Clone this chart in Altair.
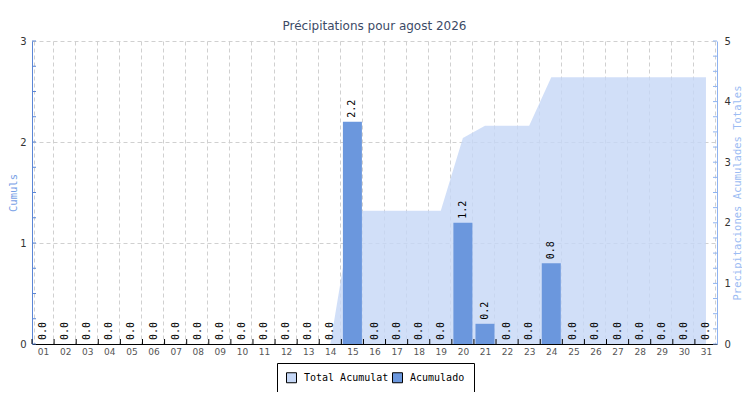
import altair as alt
import pandas as pd

days = ["01","02","03","04","05","06","07","08","09","10","11","12","13","14","15","16",
        "17","18","19","20","21","22","23","24","25","26","27","28","29","30","31"]
precip = [0.0,0.0,0.0,0.0,0.0,0.0,0.0,0.0,0.0,0.0,0.0,0.0,0.0,0.0,2.2,0.0,
          0.0,0.0,0.0,1.2,0.2,0.0,0.0,0.8,0.0,0.0,0.0,0.0,0.0,0.0,0.0]
cumul = [0.0,0.0,0.0,0.0,0.0,0.0,0.0,0.0,0.0,0.0,0.0,0.0,0.0,0.0,2.2,2.2,
         2.2,2.2,2.2,3.4,3.6,3.6,3.6,4.4,4.4,4.4,4.4,4.4,4.4,4.4,4.4]
series_names = ["Total Acumulat", "Acumulado"]
left_ticks = [i * 0.25 for i in range(13)]
right_ticks = [i * 0.25 for i in range(21)]

AREA_COL = "#c5d7f6"
BAR_COL = "#6b97dd"
W, H = 685, 303

df = pd.DataFrame({"day": days, "precip": precip, "cumul": cumul})
df["s_bar"] = series_names[1]
df["s_area"] = series_names[0]

color_scale = alt.Scale(domain=series_names, range=[AREA_COL, BAR_COL])
legend = alt.Legend(title=None, orient="none", legendX=245, legendY=322, direction="horizontal",
                    symbolType="square", symbolSize=100, symbolStrokeColor="black",
                    symbolStrokeWidth=1, symbolOpacity=1, labelFont="DejaVu Sans Mono",
                    labelFontSize=10, labelColor="black", strokeColor="black", fillColor="white",
                    padding=9, columnPadding=1, labelOffset=7, cornerRadius=0)

x_axis = alt.Axis(title=None, labelAngle=0, ticks=False, domainColor="black", domainWidth=1,
                  grid=True, gridDash=[4, 3], gridColor="#d0d0d0", tickBand="extent",
                  labelFont="DejaVu Sans", labelFontSize=9, labelColor="#555555", labelPadding=3)
x_enc = alt.X("day:O", scale=alt.Scale(paddingInner=0.14, paddingOuter=0.07), axis=x_axis)

left_axis = alt.Axis(orient="left", title="Cumuls", values=[0, 1, 2, 3], ticks=False,
                     domainColor="#5b86d6", domainWidth=1, grid=True, gridDash=[4, 3],
                     gridColor="#d0d0d0", labelFont="DejaVu Sans", labelFontSize=10,
                     labelColor="#333333", labelPadding=6, titleColor="#76a0e6",
                     titleFont="DejaVu Sans Mono", titleFontSize=10.5, titleFontWeight="normal",
                     titleAngle=270, titleX=-24, titleY=H / 2, titleAlign="center",
                     titleBaseline="top")
right_axis = alt.Axis(orient="right", title="Precipitaciones Acumulades Totales",
                      values=[0, 1, 2, 3, 4, 5], ticks=False, domainColor="#8fb3f0",
                      domainWidth=1, grid=False, labelFont="DejaVu Sans", labelFontSize=10,
                      labelColor="#333333", labelPadding=7, titleColor="#9cbcf3",
                      titleFont="DejaVu Sans Mono", titleFontSize=10.5, titleFontWeight="normal",
                      titleAngle=270, titleX=25, titleY=H / 2, titleAlign="center",
                      titleBaseline="bottom")

lscale = alt.Scale(domain=[0, 3], nice=False)
rscale = alt.Scale(domain=[0, 5], nice=False)

base = alt.Chart(df)

area = base.mark_area(opacity=0.8, interpolate="linear").encode(
    x=x_enc,
    y=alt.Y("cumul:Q", scale=rscale, axis=right_axis),
    color=alt.Color("s_area:N", scale=color_scale, legend=legend),
)
rt = alt.Chart(pd.DataFrame({"v": right_ticks})).mark_rule(color="#8fb3f0").encode(
    y=alt.Y("v:Q", scale=rscale, axis=right_axis),
    x=alt.value(W - 4), x2=alt.value(W),
)
right_layer = alt.layer(area, rt)

bars = base.mark_bar().encode(
    x=x_enc,
    y=alt.Y("precip:Q", scale=lscale, axis=left_axis),
    color=alt.Color("s_bar:N", scale=color_scale, legend=legend),
)
labels = base.mark_text(angle=270, align="left", baseline="middle", dx=4,
                        font="DejaVu Sans Mono", fontSize=10, color="black").encode(
    x=x_enc,
    y=alt.Y("precip:Q", scale=lscale, axis=left_axis),
    text=alt.Text("precip:Q", format=".1f"),
)
lt = alt.Chart(pd.DataFrame({"v": left_ticks})).mark_rule(color="#5b86d6").encode(
    y=alt.Y("v:Q", scale=lscale, axis=left_axis),
    x=alt.value(0), x2=alt.value(4),
)
xt = alt.Chart(pd.DataFrame({"day": days})).mark_rule(color="black", xOffset=-1.55).encode(
    x=alt.X("day:O", bandPosition=0, scale=alt.Scale(paddingInner=0.14, paddingOuter=0.07), axis=x_axis),
    y=alt.value(H - 5), y2=alt.value(H),
)
left_layer = alt.layer(bars, labels, lt, xt)

chart = alt.layer(right_layer, left_layer).resolve_scale(y="independent").properties(
    width=W, height=H,
    title=alt.Title("Précipitations pour agost 2026", font="DejaVu Sans", fontSize=12,
                    fontWeight="normal", color="#3c4a66", offset=3),
    autosize="none",
    padding={"left": 24, "top": 33, "right": 25, "bottom": 48},
).configure_view(stroke="transparent")

chart.save("out.html", embed_options={"renderer": "svg", "actions": False})
